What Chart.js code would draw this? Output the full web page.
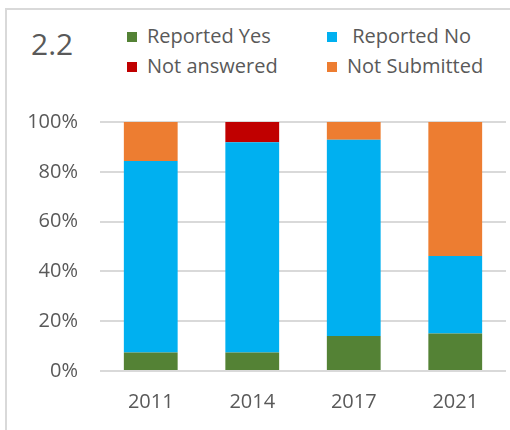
<!DOCTYPE html>
<html>
<head>
<meta charset="utf-8">
<script src="https://cdn.jsdelivr.net/npm/chart.js@4.4.1/dist/chart.umd.min.js"></script>
<style>
  html, body { margin: 0; padding: 0; background: #fff; }
  #wrap { position: relative; width: 510px; height: 430px; overflow: hidden; font-family: "Open Sans", sans-serif; color: #595959; }
  #frame { position: absolute; left: 5px; top: 8px; width: 520px; height: 440px; border-left: 2px solid #d9d9d9; border-top: 2px solid #d9d9d9; }
  #title { position: absolute; left: 31px; top: 24px; font-size: 30px; line-height: 40px; }
  .item { position: absolute; font-size: 20px; line-height: 24px; white-space: pre; }
  .item span { display: inline-block; width: 10px; height: 10px; margin-right: 10px; vertical-align: 1px; }
  canvas { position: absolute; left: 0; top: 0; }
</style>
</head>
<body>
<div id="wrap">
  <div id="frame"></div>
  <div id="title">2.2</div>
  <div id="legend"></div>
  <canvas id="chart" width="510" height="430"></canvas>
</div>
<script>
// data (percent of each year)
const years = ["2011", "2014", "2017", "2021"];
const reportedYes = [7.4, 7.4, 14.1, 15.1];
const reportedNo = [76.9, 84.5, 78.8, 31.1];
const notAnswered = [0, 8.1, 0, 0];
const notSubmitted = [15.7, 0, 7.1, 53.8];
const yTicks = [0, 20, 40, 60, 80, 100];

const seriesNames = ["Reported Yes", " Reported No", "Not answered", "Not Submitted"];
const seriesColors = ["#548235", "#00b0f0", "#c00000", "#ed7d31"];
const seriesData = [reportedYes, reportedNo, notAnswered, notSubmitted];

// legend 2 x 2, like the excel one
const legend = document.getElementById("legend");
const legendPos = [[127, 24], [327, 24], [127, 54], [327, 54]];
seriesNames.forEach(function (name, i) {
  const el = document.createElement("div");
  el.className = "item";
  el.style.left = legendPos[i][0] + "px";
  el.style.top = legendPos[i][1] + "px";
  el.innerHTML = '<span style="background:' + seriesColors[i] + '"></span>' + name;
  legend.appendChild(el);
});

const ctx = document.getElementById("chart");
new Chart(ctx, {
  type: "bar",
  data: {
    labels: years,
    datasets: seriesData.map(function (d, i) {
      return {
        label: seriesNames[i].trim(),
        data: d,
        backgroundColor: seriesColors[i],
        borderWidth: 0,
        barPercentage: 0.53,
        categoryPercentage: 1,
      };
    }),
  },
  options: {
    responsive: false,
    animation: false,
    layout: { padding: { top: 122, right: 4, bottom: 0, left: 0 } },
    plugins: { legend: { display: false }, tooltip: { enabled: false } },
    scales: {
      x: {
        stacked: true,
        grid: { display: false },
        border: { display: false },
        ticks: { color: "#595959", font: { family: "Open Sans", size: 20 }, padding: 11 },
        afterFit: function (s) { s.height = 59; },
      },
      y: {
        stacked: true,
        min: 0,
        max: 100,
        afterBuildTicks: function (s) { s.ticks = yTicks.map(function (v) { return { value: v }; }); },
        grid: { color: "#d9d9d9", lineWidth: 2, drawTicks: false },
        border: { display: false },
        ticks: {
          color: "#595959",
          font: { family: "Open Sans", size: 20 },
          padding: 22,
          callback: function (v) { return v + "%"; },
        },
        afterFit: function (s) { s.width = 100; },
      },
    },
  },
});
</script>
</body>
</html>
